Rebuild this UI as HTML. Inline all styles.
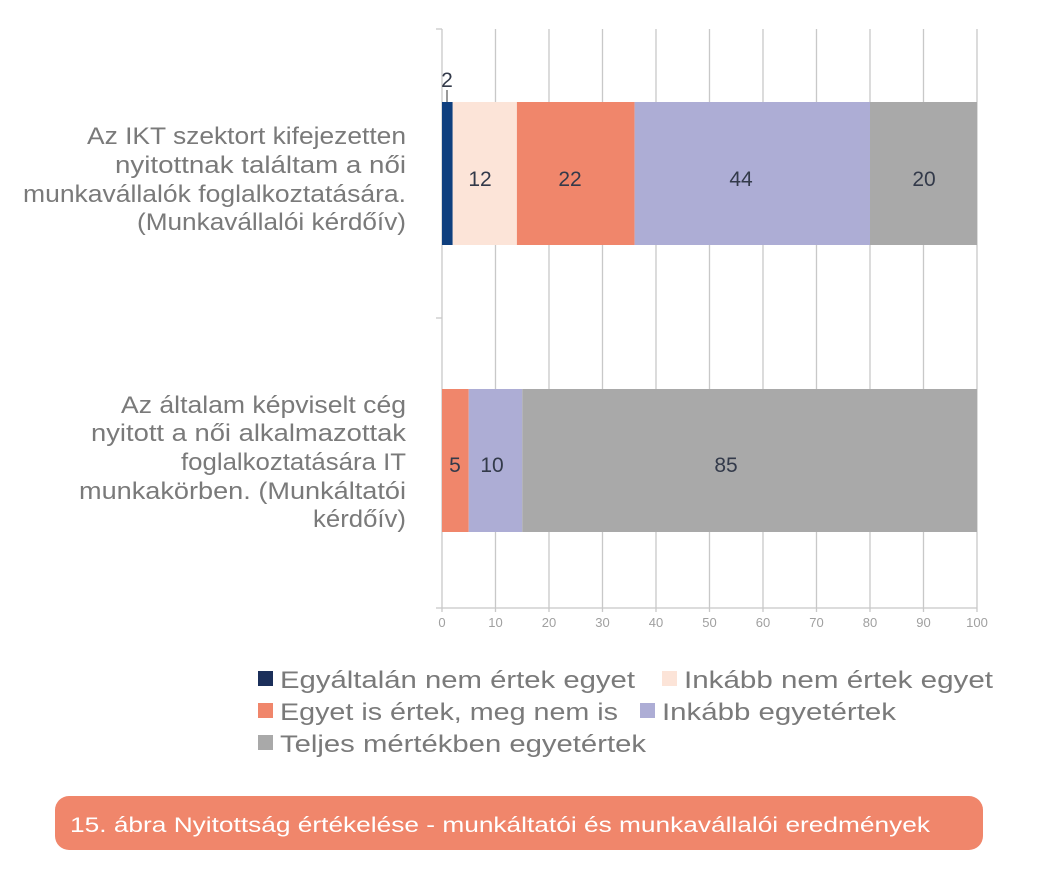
<!DOCTYPE html>
<html><head><meta charset="utf-8"><style>body{margin:0;background:#fff}svg{display:block}</style></head><body>
<svg width="1042" height="888" viewBox="0 0 1042 888" xmlns="http://www.w3.org/2000/svg" font-family="Liberation Sans, sans-serif">
<g stroke="#c8c8c8" stroke-width="1.3">
<line x1="442" y1="29" x2="442" y2="612"/><line x1="495.5" y1="29" x2="495.5" y2="612"/><line x1="549" y1="29" x2="549" y2="612"/><line x1="602.5" y1="29" x2="602.5" y2="612"/><line x1="656" y1="29" x2="656" y2="612"/><line x1="709.5" y1="29" x2="709.5" y2="612"/><line x1="763" y1="29" x2="763" y2="612"/><line x1="816.5" y1="29" x2="816.5" y2="612"/><line x1="870" y1="29" x2="870" y2="612"/><line x1="923.5" y1="29" x2="923.5" y2="612"/><line x1="977" y1="29" x2="977" y2="612"/>
<line x1="436" y1="608" x2="977" y2="608"/><line x1="436" y1="29" x2="442" y2="29"/><line x1="436" y1="318" x2="442" y2="318"/>
</g>
<rect x="442" y="102" width="10.7" height="143" fill="#0f3f7e"/>
<rect x="452.7" y="102" width="64.2" height="143" fill="#fce4d8"/>
<rect x="516.9" y="102" width="117.7" height="143" fill="#f0866b"/>
<rect x="634.6" y="102" width="235.4" height="143" fill="#adadd5"/>
<rect x="870" y="102" width="107" height="143" fill="#a9a9a9"/>
<rect x="442" y="389" width="26.75" height="143" fill="#f0866b"/>
<rect x="468.75" y="389" width="53.5" height="143" fill="#adadd5"/>
<rect x="522.25" y="389" width="454.75" height="143" fill="#a9a9a9"/>
<line x1="447" y1="90" x2="447" y2="102" stroke="#333" stroke-width="1"/>
<g fill="#333a4a" font-size="21" text-anchor="middle">
<text x="447" y="87">2</text><text x="480" y="186">12</text><text x="570" y="186">22</text><text x="741" y="186">44</text><text x="924" y="186">20</text>
<text x="455" y="472">5</text><text x="492" y="472">10</text><text x="726" y="472">85</text>
</g>
<g fill="#a0a0a0" font-size="13" text-anchor="middle">
<text x="442" y="627">0</text><text x="495.5" y="627">10</text><text x="549" y="627">20</text><text x="602.5" y="627">30</text><text x="656" y="627">40</text><text x="709.5" y="627">50</text><text x="763" y="627">60</text><text x="816.5" y="627">70</text><text x="870" y="627">80</text><text x="923.5" y="627">90</text><text x="977" y="627">100</text>
</g>
<g fill="#7a7a7a" font-size="24">
<text x="87" y="144" textLength="319" lengthAdjust="spacingAndGlyphs">Az IKT szektort kifejezetten</text>
<text x="115" y="173" textLength="291" lengthAdjust="spacingAndGlyphs">nyitottnak találtam a női</text>
<text x="23" y="202" textLength="383" lengthAdjust="spacingAndGlyphs">munkavállalók foglalkoztatására.</text>
<text x="137" y="230" textLength="269" lengthAdjust="spacingAndGlyphs">(Munkavállalói kérdőív)</text>
<text x="121" y="413" textLength="285" lengthAdjust="spacingAndGlyphs">Az általam képviselt cég</text>
<text x="91" y="441" textLength="315" lengthAdjust="spacingAndGlyphs">nyitott a női alkalmazottak</text>
<text x="181" y="470" textLength="225" lengthAdjust="spacingAndGlyphs">foglalkoztatására IT</text>
<text x="79" y="499" textLength="327" lengthAdjust="spacingAndGlyphs">munkakörben. (Munkáltatói</text>
<text x="313" y="527" textLength="93" lengthAdjust="spacingAndGlyphs">kérdőív)</text>
</g>
<rect x="258" y="671" width="15" height="15" fill="#1b2f5a"/>
<rect x="662" y="671" width="15" height="15" fill="#fce4d8"/>
<rect x="258" y="703" width="15" height="15" fill="#f0866b"/>
<rect x="640" y="703" width="15" height="15" fill="#adadd5"/>
<rect x="258" y="735" width="15" height="15" fill="#a9a9a9"/>
<g fill="#7a7a7a" font-size="24">
<text x="280" y="688" textLength="355" lengthAdjust="spacingAndGlyphs">Egyáltalán nem értek egyet</text>
<text x="684" y="688" textLength="309" lengthAdjust="spacingAndGlyphs">Inkább nem értek egyet</text>
<text x="280" y="720" textLength="338" lengthAdjust="spacingAndGlyphs">Egyet is értek, meg nem is</text>
<text x="662" y="720" textLength="234" lengthAdjust="spacingAndGlyphs">Inkább egyetértek</text>
<text x="280" y="752" textLength="366" lengthAdjust="spacingAndGlyphs">Teljes mértékben egyetértek</text>
</g>
<rect x="55" y="796" width="928" height="54" rx="14" fill="#f0866b"/>
<text x="70" y="832" fill="#fff" font-size="21" textLength="860" lengthAdjust="spacingAndGlyphs">15. ábra Nyitottság értékelése - munkáltatói és munkavállalói eredmények</text>
</svg>
</body></html>
